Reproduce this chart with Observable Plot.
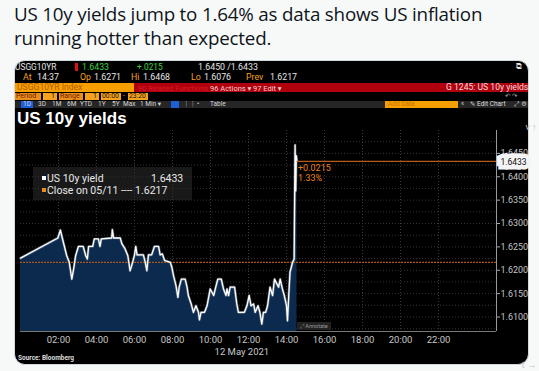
<!DOCTYPE html>
<html><head><meta charset="utf-8">
<script src="https://cdn.jsdelivr.net/npm/d3@7"></script>
<script src="https://cdn.jsdelivr.net/npm/@observablehq/plot@0.6"></script>
<style>
body{margin:0;background:#f7f9f9;}
#wrap{position:relative;width:539px;height:371px;overflow:hidden;background:#f7f9f9;}
#title{position:absolute;left:14px;top:2px;font-family:"Open Sans",sans-serif;font-size:18.8px;line-height:24px;color:#0f1419;letter-spacing:-0.2px;}
#panel{position:absolute;left:14px;top:60px;width:513px;height:303px;background:#000;border-radius:11px;border:1px solid #cfd9de;}
.t{position:absolute;font-family:Roboto,"DejaVu Sans",sans-serif;font-size:8.6px;line-height:9px;white-space:nowrap;}
.bar{position:absolute;}
#chart{position:absolute;left:0;top:120px;}
#legend{position:absolute;left:33px;top:167px;width:159px;height:33px;background:rgba(45,45,45,0.55);font-family:Roboto,sans-serif;font-size:10.5px;color:#e8e8e8;}
</style></head>
<body><div id="wrap">
<div id="title">US 10y yields jump to 1.64% as data shows US inflation<br>running hotter than expected.</div>
<div id="panel"></div>
<div id="hdr"></div>
<div id="chart"></div>
<div id="legend">
 <div style="position:absolute;left:9px;top:5px;"><span style="display:inline-block;width:4px;height:4px;background:#fff;vertical-align:2px;margin-right:1px"></span>US 10y yield</div>
 <div style="position:absolute;left:118px;top:5px;">1.6433</div>
 <div style="position:absolute;left:9px;top:17px;"><span style="display:inline-block;width:4px;height:4px;background:#f08a1c;vertical-align:2px;margin-right:1px"></span>Close on 05/11 ---- 1.6217</div>
</div>
<div class="t" style="left:297px;top:322px;font-size:5.5px;color:#999;background:#222;padding:0 3px;line-height:8px">⤢ Annotate</div>
<div class="t" style="left:18px;top:354px;font-size:6.5px;font-weight:bold;color:#ddd">Source: Bloomberg</div>
</div>
<script>
// ---- data ----
const times = ["00:00","01:58","02:06","02:12","02:26","02:34","02:42","02:48","02:54","03:03","03:18","03:26","03:31","03:35","03:48","03:53","04:06","04:11","04:15","04:48","04:50","04:54","05:15","05:20","05:30","05:39","05:46","05:54","06:00","06:04","06:08","06:28","06:34","06:39","06:44","06:54","07:03","07:16","07:21","07:28","07:35","07:53","07:58","08:03","08:11","08:17","08:21","08:28","08:40","08:46","08:50","08:59","09:06","09:14","09:22","09:25","09:30","09:41","09:49","09:59","10:10","10:15","10:23","10:34","10:41","10:49","10:52","10:57","11:02","11:16","11:23","11:28","11:47","11:55","12:02","12:08","12:16","12:21","12:30","12:36","12:42","12:47","12:54","13:00","13:08","13:16","13:22","13:35","13:40","13:47","13:53","14:00","14:03","14:07","14:11","14:19","14:24","14:27","14:29","14:31","14:33"];
const yields = [1.6226,1.6269,1.6286,1.6269,1.6231,1.6217,1.6181,1.6204,1.6231,1.6251,1.6251,1.6231,1.6224,1.6251,1.6251,1.6267,1.6267,1.6251,1.6267,1.6269,1.6287,1.6269,1.6269,1.6257,1.6246,1.6231,1.6199,1.6217,1.6233,1.6251,1.6233,1.6233,1.6217,1.6199,1.6233,1.6233,1.6251,1.6251,1.6233,1.6235,1.6221,1.6217,1.6206,1.6189,1.6167,1.6142,1.6164,1.6181,1.6181,1.6164,1.6146,1.6128,1.6110,1.6124,1.6110,1.6094,1.6110,1.6110,1.6124,1.6160,1.6146,1.6160,1.6181,1.6181,1.6160,1.6146,1.6160,1.6146,1.6164,1.6164,1.6128,1.6110,1.6110,1.6124,1.6146,1.6124,1.6128,1.6110,1.6124,1.6110,1.6085,1.6110,1.6110,1.6124,1.6164,1.6146,1.6181,1.6164,1.6181,1.6160,1.6146,1.6124,1.6092,1.6146,1.6196,1.6217,1.6224,1.6468,1.6370,1.6445,1.6433];
const prevClose = 1.6217;
const lastValue = 1.6433;
const change = "+0.0215";
const changePct = "1.33%";
const xTickHours = [2,4,6,8,10,12,14,16,18,20,22];
const yTickValues = [1.6100,1.6150,1.6200,1.6250,1.6300,1.6350,1.6400,1.6450];
const dateLabel = "12 May 2021";

// ---- header (Bloomberg terminal chrome) ----
const hdr = document.getElementById("hdr");
function bar(l,t,w,h,c){const d=document.createElement("div");d.className="bar";d.style.cssText=`left:${l}px;top:${t}px;width:${w}px;height:${h}px;background:${c}`;hdr.appendChild(d);}
function txt(l,t,s,c,extra=""){const d=document.createElement("div");d.className="t";d.style.cssText=`left:${l}px;top:${t}px;color:${c};${extra}`;d.textContent=s;hdr.appendChild(d);}
const AMB="#f5a020", GRN="#3cd03c", WH="#e6e6e6";
// row1
txt(15,63,"USGG10YR",WH,"font-size:8.4px;line-height:8px");
bar(75,63,3,8,"#e01010");
txt(82,63,"1.6433",GRN,"font-size:8.8px;line-height:8px");
txt(137,63,"+.0215",GRN,"font-size:8.4px;line-height:8px");
txt(198,63,"1.6450 /1.6433",WH,"font-size:8.8px;line-height:8px");
txt(516,63,"⧉",WH,"font-size:8px;line-height:8px");
// row2
const R2="font-size:8.8px;line-height:8px";
txt(23,73,"At",AMB,R2);txt(37,73,"14:37",WH,R2);
txt(80,73,"Op",AMB,R2);txt(94,73,"1.6271",WH,R2);
txt(131,73,"Hi",AMB,R2);txt(143,73,"1.6468",WH,R2);
txt(191,73,"Lo",AMB,R2);txt(204,73,"1.6076",WH,R2);
txt(246,73,"Prev",AMB,R2);txt(270,73,"1.6217",WH,R2);
// row3
bar(15,83,119,9,"#f5a000");
bar(134,83,394,9,"#b0000e");
txt(17,83,"USGG10YR Index","#b85a00","font-size:8.6px");
txt(138,83.5,"90 Related Functions","#d81c28","font-size:7.5px");
txt(210,83.5,"96 Actions ▾","#f3d0d0","font-size:7.5px");
txt(253,83.5,"97 Edit ▾","#f3d0d0","font-size:7.5px");
txt(446,83,"G 1245: US 10y yields","#f6dede","font-size:8.6px");
// row4
bar(15,93,26,7,"#e8901a");txt(16,92.5,"Period","#7a1500","font-size:7px;line-height:7px");
bar(43,93,14,7,"#f7a21b");txt(51,92.5,"1","#111","font-size:7px;line-height:7px");
bar(59,93,24,7,"#e8901a");txt(60,92.5,"Range","#7a1500","font-size:7px;line-height:7px");
bar(85,93,14,7,"#f7a21b");txt(93,92.5,"1","#111","font-size:7px;line-height:7px");
bar(101,93,20,7,"#f7a21b");txt(102,92.5,"00:00","#111","font-size:6.8px;line-height:7px");
txt(123,92.5,"-",AMB,"font-size:7px;line-height:7px");
bar(128,93,20,7,"#f7a21b");txt(129,92.5,"23:20","#111","font-size:6.8px;line-height:7px");
txt(505,92.5,"↶  ↷","#aaa","font-size:6.5px;line-height:7px");
// row5
bar(15,101,513,7,"#262626");
bar(21,101,12,7,"#1e5fd8");
const tabs=[["1D",23],["3D",38],["1M",52],["6M",67],["YTD",80],["1Y",98],["5Y",112],["Max",123],["1 Min ▾",140],["⋮⋮",183],["•",197],["Table",210]];
tabs.forEach(([s,x])=>txt(x,101,s,"#d8d8d8","font-size:6.5px;line-height:7px"));
bar(171,101,8,7,"#1e5fd8");
bar(385,101,73,7,"#f5a000");txt(388,101,"Add Data","#c87000","font-size:6.5px;line-height:7px");
txt(461,101,"«","#ccc","font-size:6.5px;line-height:7px");
txt(470,101,"✎ Edit Chart","#ddd","font-size:6.5px;line-height:7px");
txt(514,101,"⤢","#ccc","font-size:6.5px;line-height:7px");
txt(521,101,"⚙","#ccc","font-size:6.5px;line-height:7px");
// chart title
txt(17,110,"US 10y yields","#fff","font-size:17px;line-height:17px;font-weight:bold;font-family:Arial,'Liberation Sans',sans-serif");

// ---- chart ----
const parseH = s => { const [h,m]=s.split(":").map(Number); return h + m/60; };
const data = times.map((s,i)=>({t: parseH(s), v: yields[i]}));
const yMin = 1.6069, yMax = 1.6499, xMax = 25.05;
const lastT = data[data.length-1].t;
const gridY = d3.range(1.6075, 1.6500, 0.0025);
const fmtH = h => String(h).padStart(2,"0")+":00";

const chart = Plot.plot({
  width: 539, height: 250,
  marginLeft: 20, marginRight: 43, marginTop: 10, marginBottom: 39,
  style: {background: "transparent", color: "#c8c8c8", fontFamily: "Roboto, sans-serif", fontSize: "9px"},
  x: {domain: [0, xMax], axis: null},
  y: {domain: [yMin, yMax], axis: null},
  marks: [
    Plot.ruleX(xTickHours, {stroke: "#3a3a3a", strokeDasharray: "1,2", strokeWidth: 1}),
    Plot.ruleY(gridY, {stroke: "#333", strokeDasharray: "1,2", strokeWidth: 1}),
    Plot.areaY(data, {x: "t", y1: yMin, y2: "v", fill: "#0b2a4d"}),
    Plot.ruleY([prevClose], {stroke: "#a9561c", strokeDasharray: "2,1", strokeWidth: 1.2}),
    Plot.line(data, {x: "t", y: "v", stroke: "#9aa6b8", strokeWidth: 2.6, strokeOpacity: 0.5}),
    Plot.line(data, {x: "t", y: "v", stroke: "#ffffff", strokeWidth: 1.3}),
    Plot.ruleY([lastValue], {x1: lastT, x2: xMax, stroke: "#b85a1a", strokeWidth: 1.2}),
    Plot.text([change], {x: lastT, y: lastValue, text: d=>d, dx: 1, dy: 7, textAnchor: "start", fill: "#e8801e", fontSize: 9}),
    Plot.text([changePct], {x: lastT, y: lastValue, text: d=>d, dx: 1, dy: 17, textAnchor: "start", fill: "#e8801e", fontSize: 9}),
    Plot.ruleY([yMin], {stroke: "#777", strokeWidth: 1}),
    Plot.ruleX([xMax], {stroke: "#999", strokeWidth: 1}),
    Plot.axisY(yTickValues, {anchor: "right", tickFormat: d=>d.toFixed(4), tickSize: 3, tickPadding: 1, stroke: "#aaa", fill: "#c4c4c4", fontSize: 9}),
    Plot.axisX(xTickHours, {anchor: "bottom", tickSize: 0, tickPadding: 5, tickFormat: fmtH, fill: "#c8c8c8", fontSize: 9.5}),
    Plot.text([dateLabel], {x: 11.65, y: yMin, text: d=>d, dy: 17, fill: "#c8c8c8", fontSize: 9.5, lineAnchor: "top"}),
    Plot.text([lastValue], {x: xMax, y: d=>d, text: d=>d.toFixed(4), dx: 17, dy: 1, fill: "#111", fontSize: 8.5, stroke: "#f4f4f4", strokeWidth: 9, paintOrder: "stroke", strokeLinejoin: "miter"})
  ]
});
document.getElementById("chart").appendChild(chart);
</script>
</body></html>
